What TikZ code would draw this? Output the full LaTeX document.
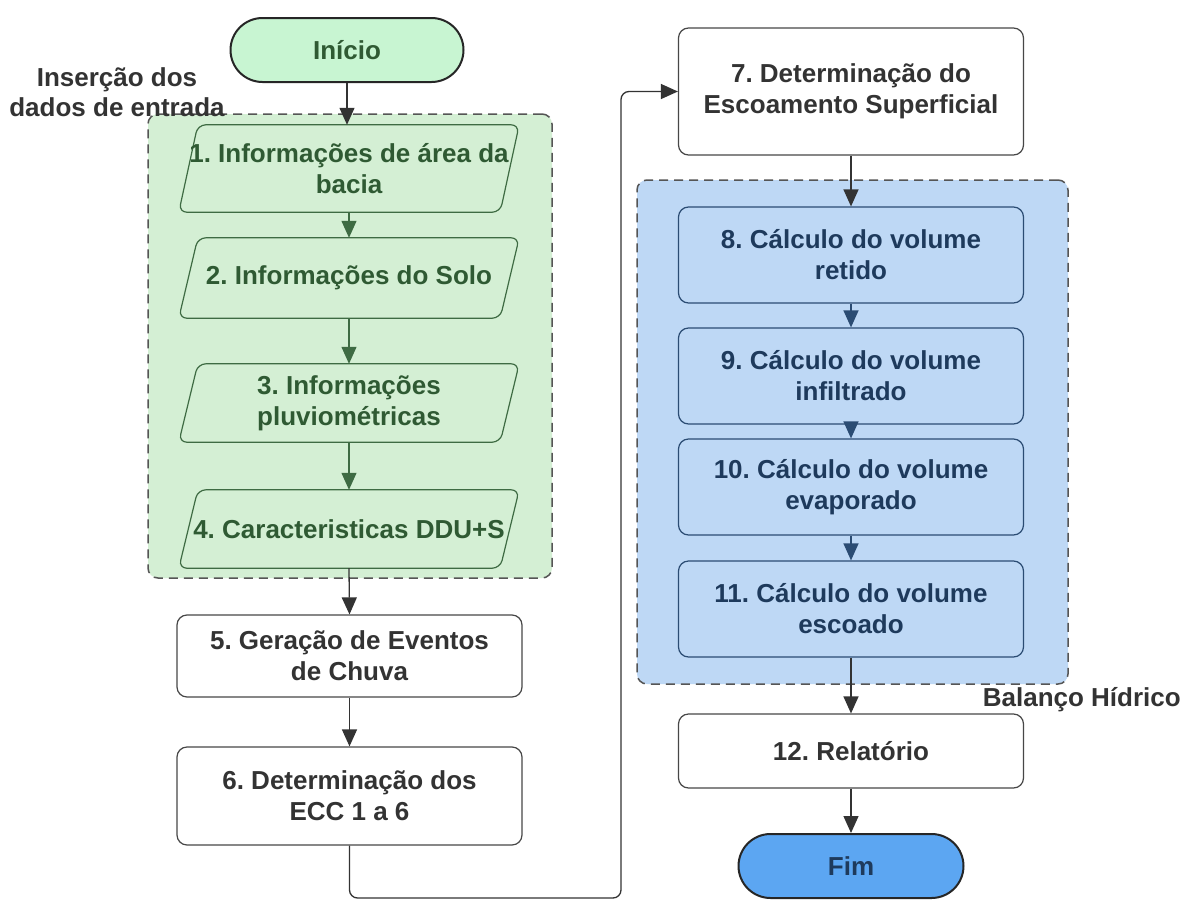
\documentclass[tikz,border=0pt]{standalone}
\usepackage{fontspec}
\setmainfont{Liberation Sans}
\frenchspacing
\usetikzlibrary{arrows.meta,calc}
\pgfdeclarelayer{bg}
\pgfdeclarelayer{mid}
\pgfsetlayers{bg,mid,main}
\definecolor{gfill}{HTML}{D4EFD4}
\definecolor{gline}{HTML}{3E6B43}
\definecolor{gtext}{HTML}{2F5A33}
\definecolor{startfill}{HTML}{C8F5D2}
\definecolor{bfill}{HTML}{BED8F5}
\definecolor{bline}{HTML}{2B4C73}
\definecolor{btext}{HTML}{1E3A5C}
\definecolor{fimfill}{HTML}{5CA6F2}
\definecolor{dgray}{HTML}{333333}
\definecolor{dashc}{HTML}{555555}
\newcommand\mypgram[1]{\draw[pshape] (#1.south west) -- ([xshift=19pt]#1.north west) -- (#1.north east) -- ([xshift=-19pt]#1.south east) -- cycle;}
\tikzset{
  txt/.style={font=\fontsize{26}{31}\selectfont\bfseries, align=center, inner sep=0pt},
  wbox/.style={txt, draw=dgray!90, line width=1.2pt, fill=white, rounded corners=10pt, minimum width=345pt, text=dgray},
  bbox/.style={txt, draw=bline, line width=1.2pt, fill=bfill, rounded corners=10pt, minimum width=345pt, minimum height=96pt, text=btext},
  ptxt/.style={txt, minimum width=340pt, text=gtext},
  pshape/.style={draw=gline, line width=1.2pt, fill=gfill, rounded corners=8pt},
  term/.style={txt, draw=black!85, line width=2pt, minimum height=64pt, rounded corners=32pt},
  grp/.style={draw=dashc, line width=1.5pt, dash pattern=on 9pt off 6pt, rounded corners=10pt, inner sep=0pt},
  lbl/.style={font=\fontsize{26}{30}\selectfont\bfseries, align=center, inner sep=0pt, text=dgray},
  conn/.style={draw=dgray, line width=1.3pt, -{Triangle[length=17pt,width=15pt]}},
  gconn/.style={conn, draw=gline},
  bconn/.style={conn, draw=bline},
}
\begin{document}
\begin{tikzpicture}[x=1pt,y=-1pt]
\useasboundingbox (0,0) rectangle (1184,900);
\begin{pgfonlayer}{bg}
\fill[white] (0,0) rectangle (1184,900);
% groups
\node[grp, fill=gfill, minimum width=404pt, minimum height=464pt] (gg) at (350,346) {};
\node[grp, fill=bfill, minimum width=431pt, minimum height=504pt] (bg) at (852.5,432) {};
\end{pgfonlayer}
% left column
\node[term, fill=startfill, minimum width=233pt, text=gtext] (start) at (347,50) {Início};
\node[ptxt, minimum height=87pt] (p1) at (349,168.5) {1. Informações de área da\\bacia};
\node[ptxt, minimum height=80pt] (p2) at (349,278) {2. Informações do Solo};
\node[ptxt, minimum height=78pt] (p3) at (349,403) {3. Informações\\pluviométricas};
\node[ptxt, minimum height=78pt] (p4) at (349,529) {4. Caracteristicas DDU+S};
\begin{pgfonlayer}{mid}
\mypgram{p1}\mypgram{p2}\mypgram{p3}\mypgram{p4}
\end{pgfonlayer}
\node[wbox, minimum height=82pt] (b5) at (349.5,656) {5. Geração de Eventos\\de Chuva};
\node[wbox, minimum height=98pt] (b6) at (349.5,796) {6. Determinação dos\\ECC 1 a 6};
% right column
\node[wbox, minimum height=127pt] (b7) at (851,91.5) {7. Determinação do\\Escoamento Superficial};
\node[bbox] (b8) at (851,255) {8. Cálculo do volume\\retido};
\node[bbox] (b9) at (851,376) {9. Cálculo do volume\\infiltrado};
\node[bbox] (b10) at (851,487) {10. Cálculo do volume\\evaporado};
\node[bbox] (b11) at (851,609) {11. Cálculo do volume\\escoado};
\node[wbox, minimum height=74pt] (b12) at (851,751) {12. Relatório};
\node[term, fill=fimfill, minimum width=225pt, text=btext] (fim) at (851,866) {Fim};
% labels
\node[lbl] (lab1) at (117,92) {Inserção dos\\dados de entrada};
\node[lbl, anchor=east] (lab2) at (1181,700) {Balanço Hídrico};
% connectors
\draw[conn] (start.south) -- (start.south |- p1.north);
\draw[gconn] (p1.south) -- (p2.north);
\draw[gconn] (p2.south) -- (p3.north);
\draw[gconn] (p3.south) -- (p4.north);
\draw[conn] (p4.south) -- (b5.north);
\draw[conn] (b5.south) -- (b6.north);
\coordinate (lb) at (621,898);
\draw[conn, rounded corners=8pt] (b6.south) |- (lb) |- (b7.west);
\draw[conn] (b7.south) -- (b8.north);
\draw[bconn] (b8.south) -- (b9.north);
\draw[bconn] (b9.south) -- (b10.north);
\draw[bconn] (b10.south) -- (b11.north);
\draw[conn] (b11.south) -- (b12.north);
\draw[conn] (b12.south) -- (fim.north);
\end{tikzpicture}
\end{document}
